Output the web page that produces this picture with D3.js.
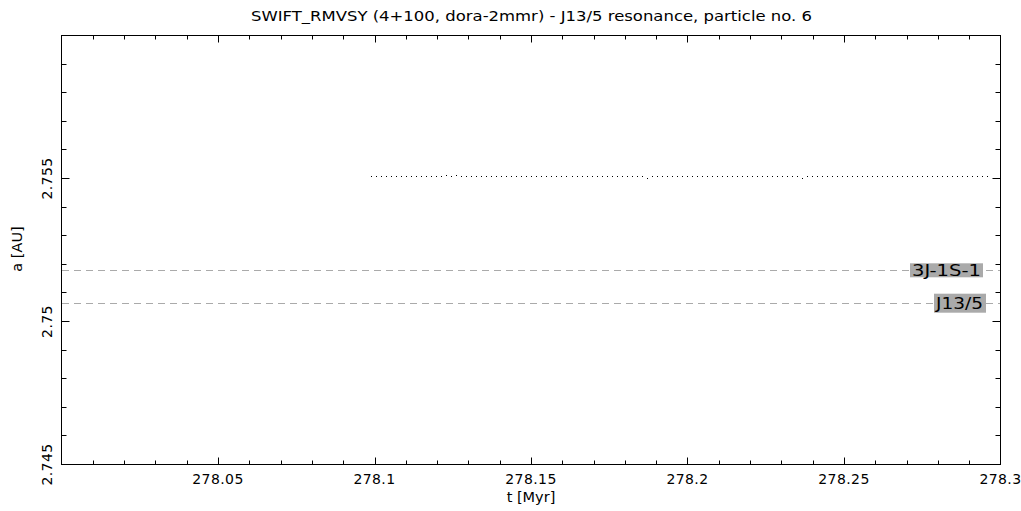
<!DOCTYPE html>
<html><head><meta charset="utf-8">
<script src="https://cdn.jsdelivr.net/npm/d3@7"></script>
<style>
html,body{margin:0;padding:0;background:#fff;}
svg{display:block;}
text{font-family:"DejaVu Sans",sans-serif;fill:#000;}
</style></head>
<body>
<script>
const titleText = "SWIFT_RMVSY (4+100, dora-2mmr) - J13/5 resonance, particle no. 6";
const xLabel = "t [Myr]";
const yLabel = "a [AU]";
const xTickValues = [278.05, 278.1, 278.15, 278.2, 278.25, 278.3];
const xTickLabels = ["278.05", "278.1", "278.15", "278.2", "278.25", "278.3"];
const yTickValues = [2.745, 2.75, 2.755];
const yTickLabels = ["2.745", "2.75", "2.755"];
const resonanceNames = ["3J-1S-1", "J13/5"];
const resonanceA = [2.75179, 2.75064];

const tValues = [
278.0991,278.1007,278.1023,278.1039,278.1055,278.1071,278.1087,278.1103,278.1119,278.1135,
278.1151,278.1167,278.1183,278.1199,278.1215,278.1231,278.1247,278.1263,278.1279,278.1295,
278.1311,278.1327,278.1343,278.1359,278.1375,278.1391,278.1407,278.1423,278.1439,278.1455,
278.1471,278.1487,278.1503,278.1519,278.1535,278.1551,278.1567,278.1583,278.1599,278.1615,
278.1631,278.1647,278.1663,278.1679,278.1695,278.1711,278.1727,278.1743,278.1759,278.1775,
278.1791,278.1807,278.1823,278.1839,278.1855,278.1871,278.1887,278.1903,278.1919,278.1935,
278.1951,278.1967,278.1983,278.1999,278.2015,278.2031,278.2047,278.2063,278.2079,278.2095,
278.2111,278.2127,278.2143,278.2159,278.2175,278.2191,278.2207,278.2223,278.2239,278.2255,
278.2271,278.2287,278.2303,278.2319,278.2335,278.2351,278.2367,278.2383,278.2399,278.2415,
278.2431,278.2447,278.2463,278.2479,278.2495,278.2511,278.2527,278.2543,278.2559,278.2575,
278.2591,278.2607,278.2623,278.2639,278.2655,278.2671,278.2687,278.2703,278.2719,278.2735,
278.2751,278.2767,278.2783,278.2799,278.2815,278.2831,278.2847,278.2863,278.2879,278.2895,
278.2911,278.2927,278.2943,278.2959];
const aValues = [
2.75507,2.75507,2.75507,2.75507,2.75507,2.75507,2.75507,2.75507,2.75507,2.75507,
2.75507,2.75507,2.75507,2.75507,2.75507,2.7551,2.75507,2.7551,2.75507,2.75507,
2.75507,2.75507,2.75507,2.75507,2.75507,2.75507,2.75507,2.75507,2.75507,2.75507,
2.75507,2.75507,2.75507,2.75507,2.75507,2.75507,2.75507,2.75507,2.75507,2.75507,
2.75507,2.75507,2.75507,2.75507,2.75507,2.75507,2.75507,2.75507,2.75507,2.75507,
2.75507,2.75507,2.75507,2.75507,2.75507,2.755,2.75507,2.75507,2.75507,2.75507,
2.75507,2.75507,2.75507,2.75507,2.75507,2.75507,2.75507,2.75507,2.75507,2.75507,
2.75507,2.75507,2.75507,2.75507,2.75507,2.75507,2.75507,2.75507,2.75507,2.75507,
2.75507,2.75507,2.75507,2.75507,2.75507,2.75507,2.755,2.75507,2.75507,2.75507,
2.75507,2.75507,2.75507,2.75507,2.75507,2.75507,2.75507,2.75507,2.75507,2.75507,
2.75507,2.75507,2.75507,2.75507,2.75507,2.75507,2.75507,2.75507,2.75507,2.75507,
2.75507,2.75507,2.75507,2.75507,2.75507,2.75507,2.75507,2.75507,2.75507,2.75507,
2.75507,2.75507,2.75507,2.75507];

const W = 1021, H = 511;
const L = 61.5, R = 1000.5, T = 35.5, B = 464.5;
const svg = d3.select("body").append("svg").attr("width", W).attr("height", H);

const x = d3.scaleLinear().domain([278.0, 278.3]).range([L, R]);
const y = d3.scaleLinear().domain([2.745, 2.76]).range([B, T]);

// resonance lines
const resG = svg.append("g");
resonanceA.forEach((a, i) => {
  const yy = Math.round(y(a)) + 0.5;
  resG.append("line").attr("x1", L + 0.5).attr("x2", R - 0.5).attr("y1", yy).attr("y2", yy)
    .attr("stroke", "#aaaaaa").attr("stroke-width", 1).attr("stroke-dasharray", "7,5");
});

// data points
svg.append("g").selectAll("rect").data(tValues.map((t, i) => [t, aValues[i]])).join("rect")
  .attr("x", d => Math.floor(x(d[0])))
  .attr("y", d => Math.floor(y(d[1])))
  .attr("width", 1).attr("height", 1).attr("fill", "#000");

// resonance labels
const labelRight = [981, 983];
const boxes = [{x0:910, x1:983}, {x0:934, x1:986}];
resonanceA.forEach((a, i) => {
  const b = boxes[i];
  const yy = y(a);
  const pad = i === 0 ? 7 : 9.5;
  resG.append("rect").attr("x", b.x0).attr("width", b.x1 - b.x0)
    .attr("y", yy - pad).attr("height", pad * 2).attr("fill", "#aaaaaa");
  resG.append("text").attr("x", labelRight[i]).attr("y", yy + 6)
    .attr("text-anchor", "end").attr("font-size", 16)
    .attr("textLength", i === 0 ? 69 : 47).attr("lengthAdjust", "spacingAndGlyphs")
    .text(resonanceNames[i]);
});

// axes frame ticks
const axG = svg.append("g").attr("stroke", "#000").attr("stroke-width", 1).attr("fill", "none");
axG.append("rect").attr("x", L).attr("y", T).attr("width", R - L).attr("height", B - T);

const xMinor = d3.range(1, 30).map(i => 278 + i * 0.01);
xMinor.forEach(v => {
  const xx = Math.round(x(v)) + 0.5;
  const major = Math.abs(Math.round(v * 20) - v * 20) < 1e-6;
  const len = major ? 7 : 4;
  axG.append("line").attr("x1", xx).attr("x2", xx).attr("y1", B).attr("y2", B - len);
  axG.append("line").attr("x1", xx).attr("x2", xx).attr("y1", T).attr("y2", T + len);
});
const yMinor = d3.range(1, 15).map(i => 2.745 + i * 0.001);
yMinor.forEach(v => {
  const yy = Math.round(y(v) - 0.5) + 0.5;
  const major = Math.abs(Math.round(v * 200) - v * 200) < 1e-6;
  const len = major ? 8 : 5;
  axG.append("line").attr("y1", yy).attr("y2", yy).attr("x1", L).attr("x2", L + len);
  axG.append("line").attr("y1", yy).attr("y2", yy).attr("x1", R).attr("x2", R - len);
});

// x tick labels
svg.append("g").selectAll("text").data(xTickValues).join("text")
  .attr("x", d => x(d)).attr("y", 484).attr("text-anchor", "middle")
  .attr("font-size", 14).attr("letter-spacing", 0.4)
  .text((d, i) => xTickLabels[i]);

// y tick labels
svg.append("g").selectAll("text").data(yTickValues).join("text")
  .attr("transform", d => `translate(52,${y(d)}) rotate(-90)`)
  .attr("text-anchor", "middle").attr("font-size", 14).attr("letter-spacing", 0.4)
  .text((d, i) => yTickLabels[i]);

// titles
svg.append("text").attr("x", 531.5).attr("y", 21).attr("text-anchor", "middle")
  .attr("font-size", 14.5).attr("textLength", 561).attr("lengthAdjust", "spacingAndGlyphs").text(titleText);
svg.append("text").attr("x", 531).attr("y", 502).attr("text-anchor", "middle")
  .attr("font-size", 14.5).text(xLabel);
svg.append("text").attr("transform", `translate(22,249) rotate(-90)`).attr("text-anchor", "middle")
  .attr("font-size", 14.5).text(yLabel);
</script>
</body></html>
